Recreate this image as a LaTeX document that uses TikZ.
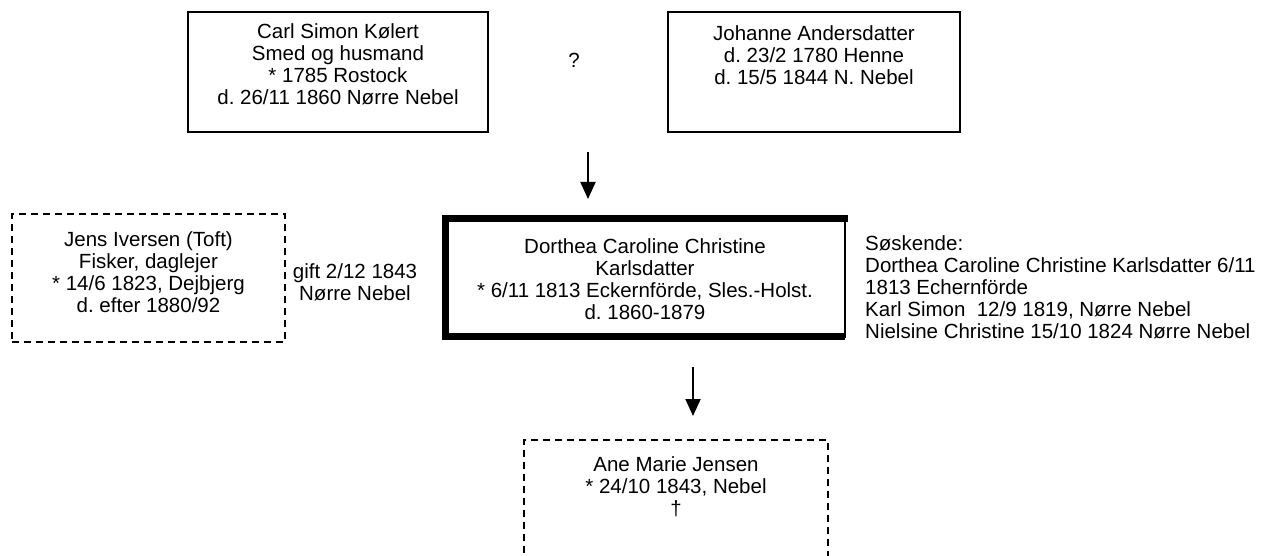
\documentclass[tikz,border=0pt]{standalone}
\usepackage{fontspec}
\setmainfont{Liberation Sans}
\usetikzlibrary{positioning,arrows.meta}
\frenchspacing

\begin{document}
\begin{tikzpicture}[x=1pt,y=-1pt,
  person/.style={draw,line width=2.5pt,minimum width=292pt,minimum height=120pt,outer sep=0pt,inner sep=0pt},
  maybe/.style={draw,dash pattern=on 7pt off 5pt,line width=2.5pt,outer sep=0pt,inner sep=0pt},
  txt/.style={align=center,inner sep=0pt,font=\fontsize{20.5}{22}\selectfont},
  >={Triangle[width=15pt,length=17pt]}]
\clip (0,0) rectangle (1271,556);
\node[person,minimum width=300pt]	(carl)		at (338,72)	{};
\node[txt,below=11pt of carl.north]	(carl_t)			{Carl Simon Kølert\\Smed og husmand\\* 1785 Rostock\\d. 26/11 1860 Nørre Nebel};
\node[person]				(johanne)	at (814,72)	{};
\node[txt,below=13pt of johanne.north]	(johanne_t)			{Johanne Andersdatter\\d. 23/2 1780 Henne\\d. 15/5 1844 N. Nebel};
\node[txt]				(q)		at (574,60)	{?};
\node[maybe,minimum width=273pt,minimum height=128pt]	(jens)	at (148.5,278)	{};
\node[txt,below=17pt of jens.north]	(jens_t)			{Jens Iversen (Toft)\\Fisker, daglejer\\* 14/6 1823, Dejbjerg\\d. efter 1880/92};
\node[txt,anchor=north]			(gift)		at (355,263)	{gift 2/12 1843\\Nørre Nebel};
\node[draw,line width=2.5pt,minimum width=400pt,minimum height=118pt,outer sep=0pt] (dorthea) at (645,277.5) {};
\draw[line width=7pt] ([xshift=3pt]dorthea.north east) -- (dorthea.north west) -- (dorthea.south west) -- (dorthea.south east);
\node[txt,below=20pt of dorthea.north]	(dorthea_t)			{Dorthea Caroline Christine\\Karlsdatter\\* 6/11 1813 Eckernförde, Sles.-Holst.\\d. 1860-1879};
\node[txt,align=left,anchor=north west]	(sibs)		at (865,235)	{Søskende:\\Dorthea Caroline Christine Karlsdatter 6/11\\1813 Echernförde\\Karl Simon~ 12/9 1819, Nørre Nebel\\Nielsine Christine 15/10 1824 Nørre Nebel};
\node[maybe,minimum width=304pt,minimum height=150pt]	(ane)	at (676,515)	{};
\node[txt,below=16pt of ane.north]	(ane_t)				{Ane Marie Jensen\\* 24/10 1843, Nebel\\†};
\coordinate (p_top) at (588,152);
\coordinate (p_bot) at (588,199);
\coordinate (c_top) at (693,367);
\coordinate (c_bot) at (693,416);
\path[->,line width=2pt]	(p_top)	edge	(p_bot)
				(c_top)	edge	(c_bot);
\end{tikzpicture}
\end{document}
